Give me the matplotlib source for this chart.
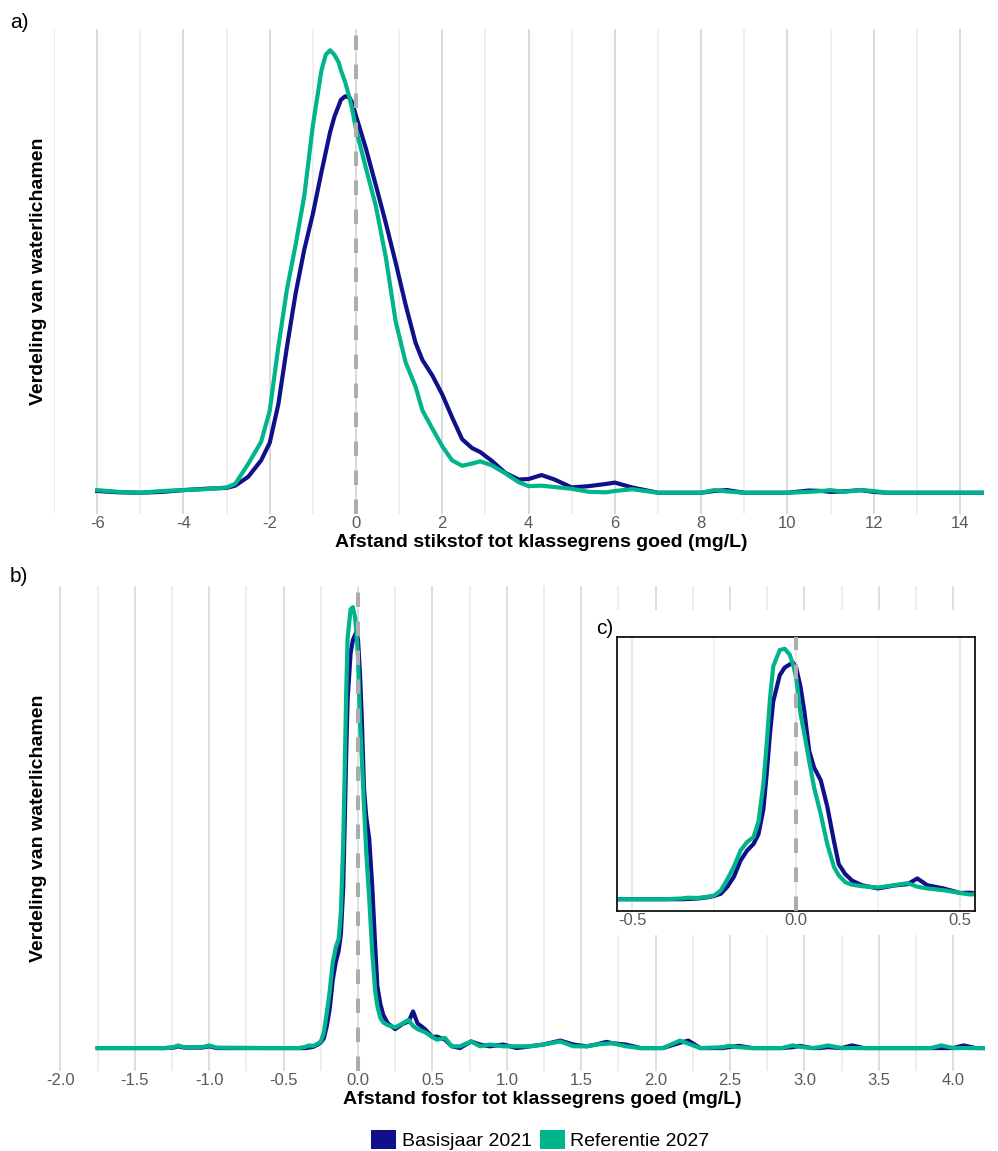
import matplotlib
matplotlib.use('Agg')
import matplotlib.pyplot as plt
from matplotlib.patches import Patch, Rectangle
from matplotlib.ticker import FormatStrFormatter

plt.rcParams['font.family'] = ['Liberation Sans', 'DejaVu Sans']
plt.rcParams['axes.unicode_minus'] = False

# --- data (relative density, peak of Referentie 2027 = 1) ---
# stikstof (panel a)
n_x = [-6, -5.5, -5, -4.5, -4, -3.5, -3, -2.8, -2.5, -2.2, -2.0, -1.8, -1.6, -1.4,
       -1.2, -1.0, -0.8, -0.7, -0.6, -0.5, -0.4, -0.35, -0.25, -0.15, -0.1, 0, 0.23,
       0.46, 0.69, 0.92, 1.15, 1.38, 1.54, 1.77, 2.0, 2.23, 2.46, 2.69, 2.88, 3.15,
       3.46, 3.77, 4.0, 4.3, 4.6, 5.0, 5.4, 5.8, 6.0, 6.4, 7.0, 8.0, 8.3, 8.6, 9.0,
       10.0, 10.5, 10.8, 11.0, 11.3, 11.7, 12.0, 12.3, 13.0, 14.5]
n_basis = [0.004, 0.001, 0.0, 0.002, 0.006, 0.009, 0.011, 0.016, 0.036, 0.073, 0.113,
           0.200, 0.330, 0.450, 0.549, 0.630, 0.725, 0.77, 0.815, 0.85, 0.875, 0.888,
           0.896, 0.893, 0.884, 0.852, 0.778, 0.695, 0.610, 0.520, 0.425, 0.339, 0.300,
           0.265, 0.222, 0.170, 0.121, 0.101, 0.092, 0.072, 0.045, 0.030, 0.031, 0.040,
           0.030, 0.012, 0.015, 0.020, 0.023, 0.012, 0.0, 0.0, 0.004, 0.006, 0.0, 0.0,
           0.005, 0.004, 0.002, 0.003, 0.006, 0.002, 0.0, 0.0, 0.0]
n_ref = [0.006, 0.002, 0.0, 0.004, 0.006, 0.008, 0.012, 0.020, 0.065, 0.115, 0.185,
         0.330, 0.460, 0.560, 0.670, 0.830, 0.955, 0.99, 1.0, 0.99, 0.972, 0.955,
         0.928, 0.892, 0.872, 0.822, 0.734, 0.648, 0.533, 0.387, 0.295, 0.240, 0.186,
         0.145, 0.105, 0.073, 0.061, 0.066, 0.071, 0.062, 0.044, 0.024, 0.015, 0.016,
         0.013, 0.009, 0.002, 0.001, 0.004, 0.008, 0.0, 0.0, 0.006, 0.003, 0.0, 0.0,
         0.002, 0.004, 0.006, 0.002, 0.006, 0.004, 0.0, 0.0, 0.0]

# fosfor (panel b and inset c)
p_x = [-1.75, -1.3, -1.24, -1.21, -1.17, -1.05, -1.0, -0.95, -0.6, -0.5, -0.4, -0.35,
       -0.33, -0.3, -0.27, -0.25, -0.23, -0.21, -0.19, -0.17, -0.15, -0.13, -0.115,
       -0.1, -0.09, -0.08, -0.07, -0.05, -0.035, -0.02, -0.01, 0.0, 0.013, 0.025,
       0.04, 0.055, 0.075, 0.095, 0.115, 0.13, 0.15, 0.17, 0.2, 0.25, 0.3, 0.34,
       0.37, 0.4, 0.45, 0.5,
       0.53, 0.585, 0.63, 0.685, 0.76, 0.82, 0.886, 0.976, 1.066, 1.155, 1.245, 1.36,
       1.447, 1.537, 1.6, 1.67, 1.71, 1.8, 1.9, 2.05, 2.164, 2.22, 2.3, 2.45, 2.49,
       2.56, 2.65, 2.85, 2.92, 2.97, 3.05, 3.1, 3.16, 3.25, 3.32, 3.4, 3.85, 3.92,
       4.0, 4.07, 4.15, 4.21]
p_basis = [0, 0, 0.001, 0.004, 0.001, 0.001, 0.004, 0, 0, 0, 0, 0,
           0.001, 0.003, 0.008, 0.013, 0.022, 0.05, 0.09, 0.154, 0.194, 0.221, 0.26,
           0.36, 0.50, 0.66, 0.79, 0.895, 0.925, 0.937, 0.945, 0.925, 0.85, 0.75,
           0.59, 0.525, 0.475, 0.37, 0.234, 0.14, 0.10, 0.075, 0.056, 0.043, 0.055, 0.06,
           0.083, 0.056, 0.043, 0.025,
           0.026, 0.019, 0.004, 0.0, 0.015, 0.008, 0.004, 0.008, 0.0, 0.004, 0.008, 0.017,
           0.008, 0.004, 0.008, 0.014, 0.011, 0.008, 0.0, 0.0, 0.012, 0.017, 0.0, 0.0, 0.002,
           0.005, 0.0, 0.0, 0.002, 0.005, 0.0, 0.0, 0.002, 0.0, 0.006, 0.0, 0.0, 0.0,
           0.0, 0.006, 0.0, 0.0]
p_ref = [0, 0, 0.002, 0.006, 0.002, 0.002, 0.006, 0.001, 0, 0, 0, 0.003,
         0.006, 0.005, 0.010, 0.015, 0.035, 0.08, 0.13, 0.194, 0.228, 0.248, 0.31,
         0.46, 0.62, 0.80, 0.93, 0.995, 1.0, 0.977, 0.94, 0.884, 0.743, 0.66,
         0.55, 0.445, 0.34, 0.22, 0.13, 0.095, 0.068, 0.058, 0.052, 0.047, 0.056, 0.064,
         0.05, 0.043, 0.036, 0.025,
         0.019, 0.023, 0.004, 0.004, 0.015, 0.004, 0.008, 0.004, 0.004, 0.004, 0.008, 0.015,
         0.004, 0.004, 0.008, 0.01, 0.011, 0.004, 0.0, 0.0, 0.017, 0.01, 0.0, 0.002, 0.005,
         0.002, 0.0, 0.0, 0.006, 0.003, 0.0, 0.002, 0.006, 0.0, 0.0, 0.0, 0.0, 0.006,
         0.0, 0.0, 0.0, 0.0]

series = ['Basisjaar 2021', 'Referentie 2027']
colors = ['#10108a', '#00b48c']

a_major = list(range(-6, 15, 2))
a_minor = list(range(-7, 15, 2))
b_major = [-2.0, -1.5, -1.0, -0.5, 0.0, 0.5, 1.0, 1.5, 2.0, 2.5, 3.0, 3.5, 4.0]
b_minor = [-1.75, -1.25, -0.75, -0.25, 0.25, 0.75, 1.25, 1.75, 2.25, 2.75, 3.25, 3.75]
c_major = [-0.5, 0.0, 0.5]
c_minor = [-0.25, 0.25]

W, H = 998, 1151
fig = plt.figure(figsize=(W / 100, H / 100), dpi=100)


def add_ax(l, t, r, b):
    return fig.add_axes([l / W, 1 - b / H, (r - l) / W, (b - t) / H])


def style(ax, major, minor, fmt, gmaj, gmin):
    ax.set_xticks(major)
    ax.set_xticks(minor, minor=True)
    ax.xaxis.set_major_formatter(FormatStrFormatter(fmt))
    ax.set_yticks([])
    ax.tick_params(axis='x', which='both', length=0, pad=1.5,
                   labelsize=12, labelcolor='#5a5a5a')
    ax.grid(which='major', axis='x', color=gmaj, lw=1.1)
    ax.grid(which='minor', axis='x', color=gmin, lw=1.1)
    ax.set_axisbelow(True)


def curves(ax, x, y1, y2):
    ax.plot(x, y1, color=colors[0], lw=3.0, solid_joinstyle='round')
    ax.plot(x, y2, color=colors[1], lw=3.0, solid_joinstyle='round')
    ax.axvline(0, color='#adadad', lw=2.9, dashes=(3.6, 3.6), zorder=5)


# panel a
ax_a = add_ax(54, 28.6, 985, 514)
style(ax_a, a_major, a_minor, '%d', '#cfcfcf', '#ebebeb')
curves(ax_a, n_x, n_basis, n_ref)
ax_a.set_xlim(-7.0, 14.58)
ax_a.set_ylim(-0.048, 1.049)
for s in ax_a.spines.values():
    s.set_visible(False)
ax_a.set_xlabel('Afstand stikstof tot klassegrens goed (mg/L)', fontsize=14, fontweight='bold')
ax_a.xaxis.set_label_coords(0.523, -0.041)
ax_a.set_ylabel('Verdeling van waterlichamen', fontsize=14, fontweight='bold')
ax_a.yaxis.set_label_coords(-0.008, 0.5)

# panel b
ax_b = add_ax(56, 586, 985, 1071)
style(ax_b, b_major, b_minor, '%.1f', '#d6d6d6', '#e8e8e8')
curves(ax_b, p_x, p_basis, p_ref)
ax_b.set_xlim(-2.03, 4.214)
ax_b.set_ylim(-0.052, 1.048)
for s in ax_b.spines.values():
    s.set_visible(False)
ax_b.set_xlabel('Afstand fosfor tot klassegrens goed (mg/L)', fontsize=14, fontweight='bold')
ax_b.xaxis.set_label_coords(0.523, -0.041)
ax_b.set_ylabel('Verdeling van waterlichamen', fontsize=14, fontweight='bold')
ax_b.yaxis.set_label_coords(-0.0097, 0.5)

# white background behind the inset
fig.add_artist(Rectangle((585 / W, 1 - 935 / H), (W - 585) / W, (935 - 610) / H,
                         transform=fig.transFigure, facecolor='white',
                         edgecolor='none', zorder=1))

# inset c
ax_c = add_ax(617, 637, 975, 911)
ax_c.set_zorder(3)
style(ax_c, c_major, c_minor, '%.1f', '#e3e3e3', '#f0f0f0')
curves(ax_c, p_x, p_basis, p_ref)
ax_c.set_xlim(-0.547, 0.546)
ax_c.set_ylim(-0.047, 1.047)
for s in ax_c.spines.values():
    s.set_color('#111111')
    s.set_linewidth(1.3)

fig.text(10 / W, 1 - 23 / H, 'a)', fontsize=15, va='center', ha='left')
fig.text(10 / W, 1 - 577 / H, 'b)', fontsize=15, va='center', ha='left')
fig.text(596 / W, 1 - 628 / H, 'c)', fontsize=15, va='center', ha='left', zorder=4)

handles = [Patch(facecolor=c, edgecolor='none') for c in colors]
fig.legend(handles, series, loc='center', bbox_to_anchor=(540.5 / W, 1 - 1140 / H),
           ncol=2, frameon=False, fontsize=14, handlelength=1.25, handleheight=1.15,
           handletextpad=0.3, columnspacing=0.45, borderpad=0, borderaxespad=0)

fig.savefig('out.png', dpi=100)
